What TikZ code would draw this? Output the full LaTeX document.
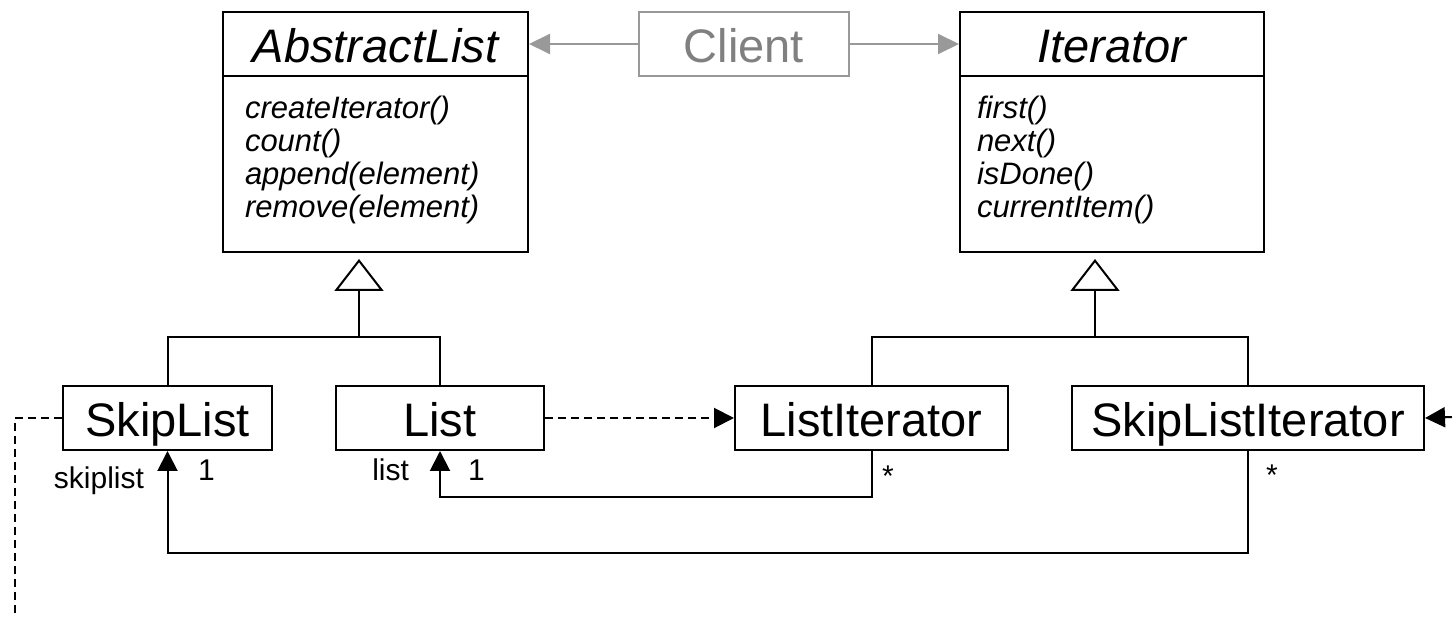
\documentclass[tikz,border=0pt]{standalone}
\usepackage{fontspec}
\setmainfont{Liberation Sans}
\usetikzlibrary{arrows.meta}
\definecolor{clientgray}{RGB}{153,153,153}
\definecolor{clienttext}{RGB}{128,128,128}

\begin{document}
\begin{tikzpicture}[x=1pt,y=-1pt,
  line width=2pt,
  classbox/.style={draw, inner sep=0pt, anchor=north west, minimum height=64pt,
    text height=37pt, text depth=0pt, font=\fontsize{47}{56}\selectfont},
  bodybox/.style={draw, inner sep=0pt, anchor=north west},
  member/.style={anchor=base west, inner sep=0pt, font=\fontsize{31}{33}\selectfont\itshape},
  role/.style={inner sep=0pt, font=\fontsize{30}{36}\selectfont},
  navig/.style={-{Triangle[length=20pt,width=20pt]}},
  depend/.style={dash pattern=on 8pt off 5pt, -{Triangle[length=20pt,width=20pt]}},
  realize/.style={dash pattern=on 8pt off 5pt},
  generalize/.style={-{Triangle[open,length=32pt,width=49pt]}, shorten >=6pt},
  uses/.style={draw=clientgray, -{Triangle[length=21pt,width=20pt]}}
]
\useasboundingbox (0,0) rectangle (1452,617);

% abstract classes
\node[classbox, minimum width=305pt] (abs) at (222,11) {\itshape AbstractList};
\node[bodybox, minimum width=305pt, minimum height=176pt] (absbody) at (222,75) {};
\foreach \txt [count=\i from 0] in {createIterator(), count(), append(element), remove(element)}
  \node[member] (absm\i) at (244,119+33*\i) {\txt};

\node[classbox, minimum width=304pt] (iter) at (959,11) {\itshape Iterator};
\node[bodybox, minimum width=304pt, minimum height=176pt] (iterbody) at (959,75) {};
\foreach \txt [count=\i from 0] in {first(), next(), isDone(), currentItem()}
  \node[member] (iterm\i) at (976,119+33*\i) {\txt};

% client
\node[classbox, minimum width=210pt, draw=clientgray, text=clienttext] (client) at (638,11) {Client};

% concrete classes
\node[classbox, minimum width=209pt] (skiplist) at (62,385) {SkipList};
\node[classbox, minimum width=208pt] (list) at (335,385) {List};
\node[classbox, minimum width=273pt] (listit) at (734,385) {ListIterator};
\node[classbox, minimum width=352pt] (skipit) at (1071,385) {SkipListIterator};

% client uses
\draw[uses] (client.west) -- (abs.east);
\draw[uses] (client.east) -- (iter.west);

% generalization trees
\coordinate (absjoin) at (359,337);
\coordinate (iterjoin) at (1095,337);
\draw (skiplist.north) |- (absjoin) -| (list.north);
\draw[generalize] (absjoin) -- (absjoin |- absbody.south);
\draw (listit.north) |- (iterjoin) -| (skipit.north);
\draw[generalize] (iterjoin) -- (iterjoin |- iterbody.south);

% navigable associations
\coordinate (listbend) at (871,497);
\coordinate (skipbend) at (1247,553);
\draw[navig] (listit.south) -- (listit.south |- listbend) -| (list.south);
\draw[navig] (skipit.south) -- (skipit.south |- skipbend) -| (skiplist.south);

% creation dependencies
\draw[depend] (list.east) -- (listit.west);
\coordinate (leftend) at (15,617);
\coordinate (rightend) at (1452,417);
\draw[realize] (skiplist.west) -| (leftend);
\draw[depend] (rightend) -- (skipit.east);

% role names and multiplicities
\node[role, anchor=base east] (skiprole) at (145,489) {skiplist};
\node[role, anchor=base west] (skipmult) at (197,481) {1};
\node[role, anchor=base east] (listrole) at (410,481) {list};
\node[role, anchor=base west] (listmult) at (467,481) {1};
\node[role] (listitmult) at (888,476) {*};
\node[role] (skipitmult) at (1272,475) {*};
\end{tikzpicture}
\end{document}
